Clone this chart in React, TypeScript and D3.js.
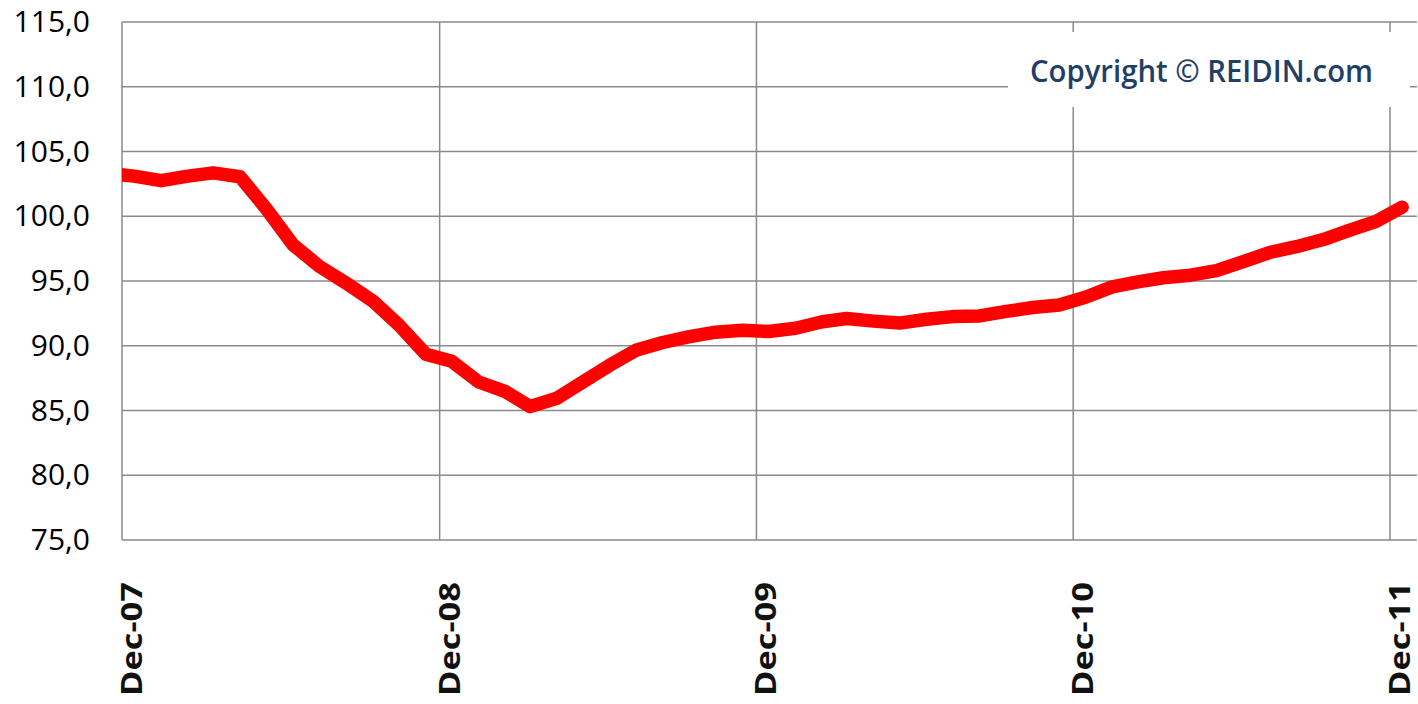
import React from "react";
import * as d3 from "d3";

const months: string[] = [
  "Nov-07", "Dec-07",
  "Jan-08", "Feb-08", "Mar-08", "Apr-08", "May-08", "Jun-08", "Jul-08", "Aug-08", "Sep-08", "Oct-08", "Nov-08", "Dec-08",
  "Jan-09", "Feb-09", "Mar-09", "Apr-09", "May-09", "Jun-09", "Jul-09", "Aug-09", "Sep-09", "Oct-09", "Nov-09", "Dec-09",
  "Jan-10", "Feb-10", "Mar-10", "Apr-10", "May-10", "Jun-10", "Jul-10", "Aug-10", "Sep-10", "Oct-10", "Nov-10", "Dec-10",
  "Jan-11", "Feb-11", "Mar-11", "Apr-11", "May-11", "Jun-11", "Jul-11", "Aug-11", "Sep-11", "Oct-11", "Nov-11", "Dec-11",
];

const indexValues: number[] = [
  103.3, 103.1,
  102.75, 103.1, 103.35, 103.05, 100.6, 97.8, 96.15, 94.85, 93.45, 91.6, 89.35, 88.8,
  87.2, 86.45, 85.3, 85.95, 87.2, 88.5, 89.65, 90.25, 90.7, 91.05, 91.2, 91.1,
  91.35, 91.85, 92.1, 91.9, 91.75, 92.05, 92.25, 92.3, 92.65, 92.95, 93.15, 93.75,
  94.55, 94.95, 95.25, 95.45, 95.8, 96.5, 97.2, 97.65, 98.2, 98.9, 99.6, 100.7,
];

const yTicks: number[] = [75, 80, 85, 90, 95, 100, 105, 110, 115];
const xTickLabels: string[] = ["Dec-07", "Dec-08", "Dec-09", "Dec-10", "Dec-11"];
const copyrightText = "Copyright © REIDIN.com";

const W = 1418;
const H = 704;
const plot = { left: 122, top: 22, bottom: 540 };

export default function App() {
  const parse = d3.timeParse("%b-%y");
  const tickDates = xTickLabels.map((l) => parse(l) as Date);
  const startDate = tickDates[0];
  const lastTick = tickDates[tickDates.length - 1];
  const endDate = d3.timeMonth.offset(lastTick, 1);
  const plotRight = 122 + (1390 - 122) * ((+endDate - +startDate) / (+lastTick - +startDate));

  const x = d3.scaleTime().domain([startDate, endDate]).range([plot.left, plotRight]);
  const y = d3.scaleLinear().domain([75, 115]).range([plot.bottom, plot.top]);

  const data = months.map((m, i) => {
    const d = parse(m) as Date;
    const mid = new Date(d.getFullYear(), d.getMonth(), 15);
    return { date: mid, value: indexValues[i] };
  });

  const line = d3
    .line<{ date: Date; value: number }>()
    .x((d) => x(d.date))
    .y((d) => y(d.value));

  const fmt = (v: number) => v.toFixed(1).replace(".", ",");
  const gridColor = "#8a8a8a";

  return (
    <svg
      width={W}
      height={H}
      style={{ position: "absolute", left: 0, top: 0, background: "#fff" }}
    >
      <defs>
        <clipPath id="plotClip">
          <rect x={plot.left} y={plot.top - 10} width={plotRight - plot.left} height={plot.bottom - plot.top + 20} />
        </clipPath>
      </defs>
      <rect x={0} y={0} width={W} height={H} fill="#fff" />
      {/* horizontal gridlines */}
      {yTicks.map((t) => (
        <line key={"h" + t} x1={plot.left} x2={plotRight} y1={y(t)} y2={y(t)} stroke={gridColor} strokeWidth={1.5} />
      ))}
      {/* vertical gridlines */}
      {tickDates.map((d, i) => (
        <line key={"v" + i} x1={x(d)} x2={x(d)} y1={plot.top} y2={plot.bottom} stroke={gridColor} strokeWidth={1.5} />
      ))}
      {/* copyright box */}
      <rect x={1008} y={32} width={402} height={75} fill="#fff" />
      <text
        x={1030}
        y={82}
        fontFamily="'Open Sans', sans-serif"
        fontWeight={600}
        fontSize={30}
        fill="#1f3f66"
        textLength={343}
        lengthAdjust="spacingAndGlyphs"
      >
        {copyrightText}
      </text>
      {/* y labels */}
      {yTicks.map((t) => (
        <text
          key={"yl" + t}
          x={90}
          y={y(t) + 2}
          textAnchor="end"
          dominantBaseline="middle"
          fontFamily="'Open Sans', sans-serif"
          fontSize={30}
          fill="#000"
        >
          {fmt(t)}
        </text>
      ))}
      {/* x labels */}
      {tickDates.map((d, i) => (
        <text
          key={"xl" + i}
          transform={`translate(${x(d) + 20},582) rotate(-90)`}
          textAnchor="end"
          fontFamily="'Open Sans', sans-serif"
          fontWeight={700}
          fontSize={29}
          fill="#111"
          textLength={114}
          lengthAdjust="spacingAndGlyphs"
        >
          {xTickLabels[i]}
        </text>
      ))}
      {/* series */}
      <path
        d={line(data) || ""}
        clipPath="url(#plotClip)"
        fill="none"
        stroke="#ff0000"
        strokeWidth={13.5}
        strokeLinejoin="round"
        strokeLinecap="round"
      />
    </svg>
  );
}
